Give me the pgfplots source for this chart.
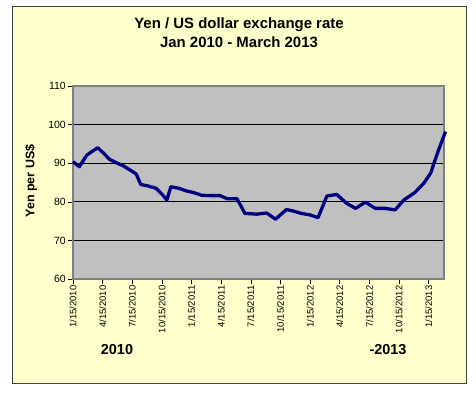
\documentclass[border=0pt]{standalone}
\usepackage{pgfplots}
\pgfplotsset{compat=1.18}
\usepackage{fontspec}
\setmainfont{Liberation Sans}
\definecolor{bgyellow}{HTML}{FFFFCC}
\definecolor{plotgray}{HTML}{C0C0C0}
\definecolor{lineblue}{HTML}{000080}
\begin{document}
\begin{tikzpicture}[x=1bp,y=1bp]
\useasboundingbox (0,0) rectangle (476,397);
\fill[white] (0,0) rectangle (476,397);
\draw[fill=bgyellow, draw=black!75, line width=0.8bp] (12,14) rectangle (466,391);
\node[font=\bfseries\fontsize{15}{15}\selectfont] at (239,372) {Yen / US dollar exchange rate};
\node[font=\bfseries\fontsize{15}{15}\selectfont] at (239,355) {Jan 2010 - March 2013};
\node[font=\bfseries\fontsize{12.5}{12.5}\selectfont, rotate=90] at (31,216) {Yen per US\$};
\node[font=\bfseries\fontsize{14.5}{14.5}\selectfont] at (117,47) {2010};
\node[font=\bfseries\fontsize{14.5}{14.5}\selectfont] at (388,47) {-2013};
\begin{axis}[
  at={(73bp,118bp)}, anchor=south west,
  scale only axis, width=371bp, height=193bp,
  xmin=0, xmax=37.55, ymin=60, ymax=110,
  axis background/.style={fill=plotgray},
  axis line style={draw=black!50, line width=1.2bp},
  ytick={60,70,80,90,100,110},
  ymajorgrids, grid style={black, line width=0.8bp},
  xtick={0,3,6,9,12,15,18,21,24,27,30,33,36},
  xticklabels={1/15/2010,4/15/2010,7/15/2010,10/15/2010,1/15/2011,4/15/2011,7/15/2011,10/15/2011,1/15/2012,4/15/2012,7/15/2012,10/15/2012,1/15/2013},
  x tick label style={rotate=90, anchor=east, font=\fontsize{9.5}{9.5}\selectfont, inner sep=1.5bp},
  y tick label style={font=\fontsize{10.5}{10.5}\selectfont, inner sep=2bp},
  /pgf/number format/assume math mode=true,
  tick align=outside, tickpos=left,
  major tick length=5bp,
  tick style={black, line width=0.6bp},
  clip=false,
]
\addplot[lineblue, line width=3.3bp, line join=round, mark=none] coordinates {
(0,90.4) (0.64,89.1) (1.4,92.1) (1.9,93.0) (2.5,94.0) (3.1,92.6) (3.7,91.0)
(4.4,90.1) (5.1,89.3) (5.8,88.2) (6.4,87.2) (6.85,84.5) (7.6,84.1) (8.4,83.5)
(9.0,82.0) (9.5,80.5) (9.9,83.9) (10.7,83.5) (11.5,82.8) (12.2,82.4) (13.0,81.7)
(13.9,81.6) (14.9,81.6) (15.6,80.8) (16.6,80.8) (17.4,77.0) (18.6,76.8) (19.6,77.1)
(20.5,75.5) (21.6,78.0) (22.3,77.6) (23.1,77.0) (24.0,76.6) (24.8,75.9) (25.7,81.5)
(26.7,81.9) (27.7,79.6) (28.6,78.3) (29.6,79.9) (30.6,78.3) (31.6,78.3) (32.6,77.9)
(33.5,80.5) (34.6,82.4) (35.5,84.8) (36.2,87.4) (36.6,90.5) (37.0,93.4) (37.7,98.2)
};
\end{axis}
\end{tikzpicture}
\end{document}
